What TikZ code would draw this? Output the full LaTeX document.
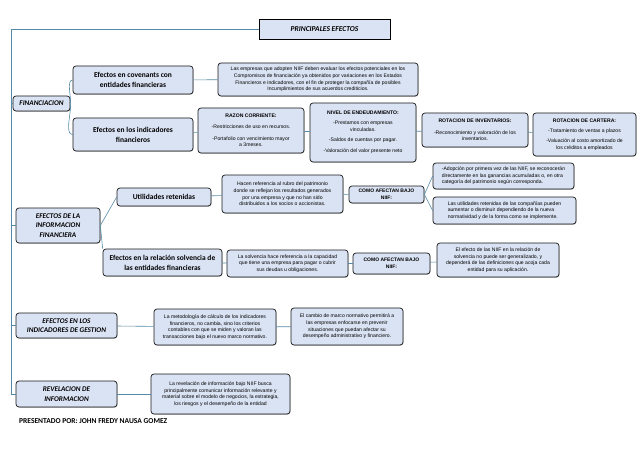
\documentclass[tikz,border=0pt]{standalone}
\usepackage{fontspec}
\setmainfont{Carlito}
\newfontfamily\descfont{Liberation Sans}
\usetikzlibrary{shadows}
\definecolor{boxblue}{RGB}{218,227,243}
\definecolor{linkblue}{RGB}{84,138,168}
\tikzset{
  box/.style={draw=black!90, fill=boxblue, rounded corners=3pt, line width=0.7pt, inner sep=1pt, align=center,
    drop shadow={shadow xshift=0.6pt, shadow yshift=-0.8pt, opacity=0.45}},
  sz/.style 2 args={minimum width=#1pt, minimum height=#2pt},
  mainbox/.style={box, font=\fontsize{7.2}{9.5}\selectfont\bfseries\itshape},
  branchbox/.style={box, font=\fontsize{7.5}{10}\selectfont\bfseries},
  notebox/.style={box, font=\descfont\fontsize{5.1}{6.6}\selectfont},
  askbox/.style={notebox, font=\descfont\fontsize{5}{6.5}\selectfont\bfseries},
  conn/.style={draw=linkblue, line width=0.6pt}
}
\begin{document}
\begin{tikzpicture}[x=1pt, y=-1pt]
  \useasboundingbox (0,0) rectangle (638,452);
  \coordinate (trunk) at (11,0);
  % title and the four main topics
  \node[draw=black, fill=boxblue, line width=0.8pt, sz={131}{20}, font=\fontsize{7.5}{8}\selectfont\bfseries\itshape] (title) at (324.5,29) {PRINCIPALES EFECTOS};
  \node[mainbox, sz={57}{15}] (finan) at (41.5,103.5) {FINANCIACION};
  \node[mainbox, sz={84}{35}] (info) at (58,225.5) {EFECTOS DE LA\\INFORMACION\\FINANCIERA};
  \node[mainbox, sz={101}{25}] (gest) at (66.5,325.5) {EFECTOS EN LOS\\INDICADORES DE GESTION};
  \node[mainbox, sz={101}{26}] (revel) at (66.5,394) {REVELACION DE\\INFORMACION};
  % financiacion
  \node[branchbox, sz={120}{28}] (cov) at (133,80) {Efectos en covenants con\\entidades financieras};
  \node[branchbox, sz={120}{33}] (indic) at (133,134.5) {Efectos en los indicadores\\financieros};
  \node[notebox, sz={200}{33}] (covtxt) at (318,79.5) {Las empresas que adopten NIIF deben evaluar los efectos potenciales en los\\Compromisos de financiación ya obtenidos por variaciones en los Estados\\Financieros e indicadores, con el fin de proteger la compañía de posibles\\Incumplimientos de sus acuerdos crediticios.};
  \node[notebox, sz={106}{45}] (razon) at (251,130.5) {\textbf{RAZON CORRIENTE:}\\[4.5pt]-Restricciones de uso en recursos.\\[4.5pt]-Portafolio con vencimiento mayor\\a 3meses.};
  \node[notebox, sz={106}{59}] (nivel) at (363,132.5) {\textbf{NIVEL DE ENDEUDAMIENTO:}\\[3.5pt]-Prestamos con empresas\\vinculadas.\\[4pt]-Saldos de cuentas por pagar.\\[4.5pt]-Valoración del valor presente neto};
  \node[notebox, sz={106}{34}] (rotinv) at (475,130) {\textbf{ROTACION DE INVENTARIOS:}\\[5pt]-Reconocimiento y valoración de los\\inventarios.};
  \node[notebox, sz={103}{43}] (rotcar) at (584.5,134.5) {\textbf{ROTACION DE CARTERA:}\\[4pt]-Tratamiento de ventas a plazos\\[3.5pt]-Valuación al costo amortizado de\\los créditos a empleados};
  % efectos de la informacion financiera
  \node[branchbox, sz={94}{18}] (util) at (164,197) {Utilidades retenidas};
  \node[branchbox, sz={119}{27}] (solv) at (162.5,262.5) {Efectos en la relación solvencia de\\las entidades financieras};
  \node[notebox, sz={121}{38}] (utiltxt) at (282.5,194) {Hacen referencia al rubro del patrimonio\\donde se reflejan los resultados generados\\por una empresa y que no han sido\\distribuidos a los socios o accionistas.};
  \node[askbox, sz={75}{17}] (como1) at (386.5,194.5) {COMO AFECTAN BAJO\\NIIF:};
  \node[notebox, sz={141}{26}, align=left] (adop) at (503.5,176) {-Adopción por primera vez de las NIIF, se reconocerán\\directamente en las ganancias acumuladas o, en otra\\categoría del patrimonio según corresponda.};
  \node[notebox, sz={143}{27}, align=left] (lasutil) at (504.5,210.5) {Las utilidades retenidas de las compañías pueden\\aumentar o disminuir dependiendo de la nueva\\normatividad y de la forma como se implemente.};
  \node[notebox, sz={121}{27}] (solvtxt) at (287.5,263.5) {La solvencia hace referencia a la capacidad\\que tiene una empresa para pagar o cubrir\\sus deudas u obligaciones.};
  \node[askbox, sz={77}{21}] (como2) at (391.5,263.5) {COMO AFECTAN BAJO\\NIIF:};
  \node[notebox, sz={122}{34}] (efecto) at (498,260) {El efecto de las NIIF en la relación de\\solvencia no puede ser generalizado, y\\dependerá de las definiciones que acoja cada\\entidad para su aplicación.};
  % indicadores de gestion
  \node[notebox, sz={122}{36}] (metod) at (215,327) {La metodología de cálculo de los indicadores\\financieros, no cambia, sino los criterios\\contables con que se miden y valoran las\\transacciones bajo el nuevo marco normativo.};
  \node[notebox, sz={112}{37}] (cambio) at (347,326.5) {El cambio de marco normativo permitirá a\\las empresas enfocarse en prevenir\\situaciones que puedan afectar su\\desempeño administrativo y financiero.};
  % revelacion
  \node[notebox, sz={139}{40}] (revtxt) at (220.5,394) {La revelación de información bajo NIIF busca\\principalmente comunicar información relevante y\\material sobre el modelo de negocios, la estrategia,\\los riesgos y el desempeño de la entidad};
  \node[anchor=west, inner sep=0pt, font=\fontsize{7.5}{8}\selectfont\bfseries] (autor) at (19,421.5) {PRESENTADO POR: JOHN FREDY NAUSA GOMEZ};
  % connectors
  \draw[conn] (title.west) -| (trunk |- revel.west) -- (revel.west);
  \draw[conn] (trunk |- finan.west) -- (finan.west);
  \draw[conn] (trunk |- info.west) -- (info.west);
  \draw[conn] (trunk |- gest.west) -- (gest.west);
  \path[conn] (finan.east) edge[out=80, in=180, looseness=0.7] (cov.west)
              (finan.east) edge[out=-80, in=180, looseness=0.7] (indic.west);
  \draw[conn] (cov) -- (covtxt);
  \draw[conn] (indic) -- (razon);
  \draw[conn] (razon) -- (nivel);
  \draw[conn] (nivel) -- (rotinv);
  \draw[conn] (rotinv) -- (rotcar);
  \draw[conn] (info.east) -- (util.west);
  \draw[conn] (info.east) -- (solv.north west);
  \draw[conn] (util) -- (utiltxt);
  \draw[conn] (utiltxt) -- (como1);
  \draw[conn] (como1.east) -- (adop.west);
  \draw[conn] (como1.east) -- (lasutil.west);
  \draw[conn] (solv) -- (solvtxt);
  \draw[conn] (solvtxt) -- (como2);
  \draw[conn] (como2) -- (efecto);
  \draw[conn] (gest) -- (metod);
  \draw[conn] (metod) -- (cambio);
  \draw[conn] (revel) -- (revtxt);
\end{tikzpicture}
\end{document}
